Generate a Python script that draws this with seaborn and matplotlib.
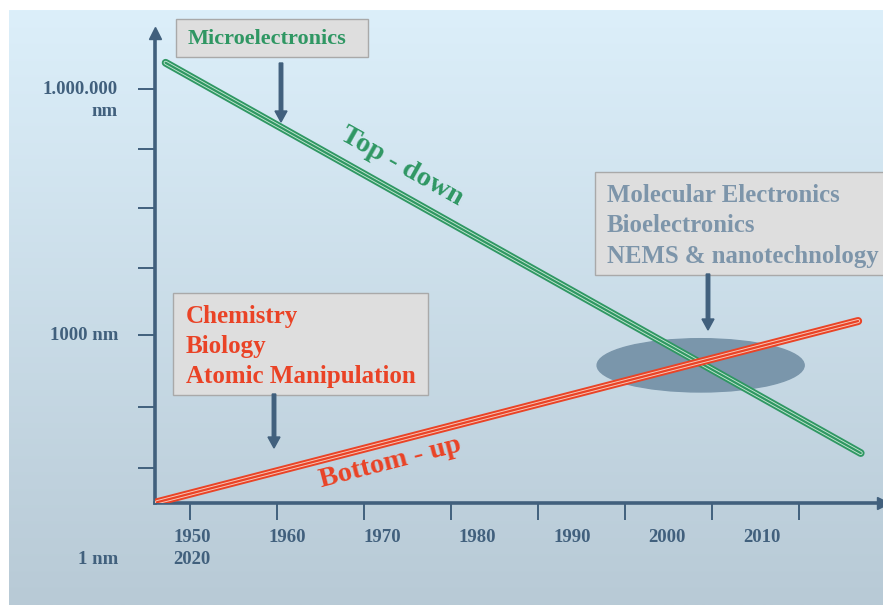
import matplotlib.pyplot as plt
import matplotlib.patheffects as pe
from matplotlib.patches import Ellipse, FancyArrow
import numpy as np
import pandas as pd
import seaborn as sns

# Data (x in years, y in log10 of size in nm - schematic)
year_ticks = [1950, 1960, 1970, 1980, 1990, 2000, 2010, 2020]
year_labels = ["1950", "1960", "1970", "1980", "1990", "2000", "2010"]
size_ticks = [6.0, 5.27, 4.55, 3.82, 3.0, 2.12, 1.38]
top_down_year = [1947.2, 2027.1]
top_down_size = [6.32, 1.56]
bottom_up_year = [1946.2, 2026.8]
bottom_up_size = [0.96, 3.17]
overlap_center = (2008.7, 2.63)
overlap_size = (23.8, 0.65)

slate = "#41607d"
green = "#2f9763"
red = "#ea4326"
grey_txt = "#7d95aa"

sns.set_theme(style="white")
plt.rcParams["font.family"] = ["Liberation Serif", "DejaVu Serif"]

fig = plt.figure(figsize=(8.83, 6.05), dpi=100)
W, H = 883, 605

# gradient background
bg = fig.add_axes([9 / W, 0, 1 - 9 / W, 1 - 10 / H])
grad = np.linspace(0, 1, 256).reshape(-1, 1)
top = np.array([220, 239, 250]) / 255
bot = np.array([184, 202, 214]) / 255
img = top + (bot - top) * grad[..., None]
bg.imshow(img, aspect="auto", extent=[0, 1, 0, 1])
bg.axis("off")

# main axes
ax = fig.add_axes([155 / W, (H - 503) / H, (883 - 155) / W, (503 - 33) / H])
ax.patch.set_alpha(0)
ax.set_xlim(1945.98, 2029.66)
ax.set_ylim(0.951, 6.683)

ell = Ellipse(overlap_center, overlap_size[0], overlap_size[1], color="#7a96ab", zorder=1)
ax.add_patch(ell)

td = pd.DataFrame({"year": top_down_year, "size": top_down_size})
bu = pd.DataFrame({"year": bottom_up_year, "size": bottom_up_size})
sns.lineplot(data=td, x="year", y="size", ax=ax, color=green, lw=1.6, zorder=3,
             path_effects=[pe.Stroke(linewidth=5.6, foreground=green),
                           pe.Stroke(linewidth=2.9, foreground="#c2e6d0"), pe.Normal()])
sns.lineplot(data=bu, x="year", y="size", ax=ax, color=red, lw=1.6, zorder=3,
             path_effects=[pe.Stroke(linewidth=5.8, foreground=red),
                           pe.Stroke(linewidth=3.0, foreground="#f6c6b8"), pe.Normal()])

for s in ["top", "right"]:
    ax.spines[s].set_visible(False)
for s in ["left", "bottom"]:
    ax.spines[s].set_color(slate)
    ax.spines[s].set_linewidth(2.6)
ax.set_xticks(year_ticks)
ax.set_yticks(size_ticks)
ax.set_xticklabels([])
ax.set_yticklabels([])
ax.tick_params(axis="both", direction="out", length=12.5, width=1.4, color=slate,
               bottom=True, left=True)
ax.set_xlabel("")
ax.set_ylabel("")
ax.grid(False)

# axis arrow heads
ax.plot(0, 1, marker="^", ms=9, color=slate, transform=ax.transAxes, clip_on=False)
ax.plot(1, 0, marker=">", ms=9, color=slate, transform=ax.transAxes, clip_on=False)

# tick labels as text
lab = dict(color=slate, fontsize=13.5, fontweight="bold")
for i, t in enumerate(year_labels):
    fig.text((192 + i * 95) / W, 1 - 538 / H, t, ha="center", va="center", **lab)
fig.text(192 / W, 1 - 560 / H, "2020", ha="center", va="center", **lab)
fig.text(118 / W, 1 - 89 / H, "1.000.000", ha="right", va="center", **lab)
fig.text(118 / W, 1 - 111 / H, "nm", ha="right", va="center", **lab)
fig.text(118 / W, 1 - 335 / H, "1000 nm", ha="right", va="center", **lab)
fig.text(118 / W, 1 - 560 / H, "1 nm", ha="right", va="center", **lab)

# boxes
def box(x0, y0, x1, y1):
    r = plt.Rectangle((x0 / W, 1 - y1 / H), (x1 - x0) / W, (y1 - y0) / H,
                      transform=fig.transFigure, facecolor="#dedede",
                      edgecolor="#a9a9a9", lw=1, zorder=5)
    fig.patches.append(r)

box(176, 19, 368, 57)
fig.text(188 / W, 1 - 39 / H, "Microelectronics", color=green, fontsize=16,
         fontweight="bold", va="center", zorder=6)

box(173, 293, 428, 395)
for j, t in enumerate(["Chemistry", "Biology", "Atomic Manipulation"]):
    fig.text(186 / W, 1 - (316 + 30 * j) / H, t, color=red, fontsize=18,
             fontweight="bold", va="center", zorder=6)

box(595, 172, 890, 275)
for j, t in enumerate(["Molecular Electronics", "Bioelectronics", "NEMS & nanotechnology"]):
    fig.text(607 / W, 1 - (196 + 30 * j) / H, t, color=grey_txt, fontsize=17.8,
             fontweight="bold", va="center", zorder=6)

# pointer arrows
def arrow(x, y0, y1):
    fig.patches.append(FancyArrow(
        x / W, 1 - y0 / H, 0, -(y1 - y0) / H, width=3.5 / W, head_width=12 / W,
        head_length=11 / H, length_includes_head=True, color=slate,
        transform=fig.transFigure, zorder=6))

arrow(281, 63, 122)
arrow(274, 394, 448)
arrow(708, 274, 330)

# rotated labels
fig.text(402 / W, 1 - 167 / H, "Top - down", color=green, fontsize=20.5, fontweight="bold",
         rotation=-29.3, rotation_mode="anchor", ha="center", va="center")
fig.text(390 / W, 1 - 463 / H, "Bottom - up", color=red, fontsize=20.5, fontweight="bold",
         rotation=14.5, rotation_mode="anchor", ha="center", va="center")

fig.savefig("out.png", dpi=100)
